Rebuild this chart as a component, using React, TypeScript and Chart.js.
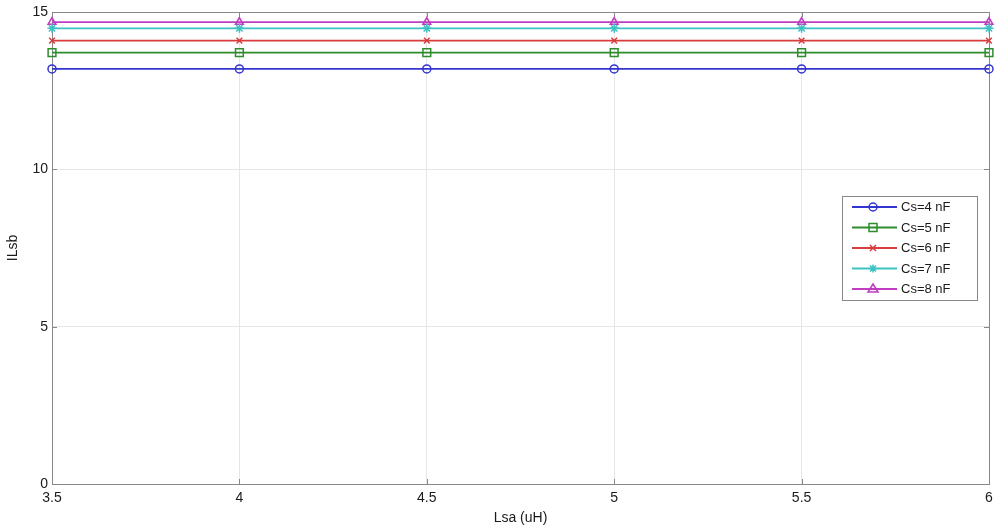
import React, { useEffect, useRef } from 'react';
import { Chart, registerables } from 'chart.js';

Chart.register(...registerables);

const lsa = [3.5, 4, 4.5, 5, 5.5, 6];
const cs4 = [13.19, 13.19, 13.19, 13.19, 13.19, 13.19];
const cs5 = [13.71, 13.71, 13.71, 13.71, 13.71, 13.71];
const cs6 = [14.09, 14.09, 14.09, 14.09, 14.09, 14.09];
const cs7 = [14.48, 14.48, 14.48, 14.48, 14.48, 14.48];
const cs8 = [14.68, 14.68, 14.68, 14.68, 14.68, 14.68];
const seriesLabels = ['Cs=4 nF', 'Cs=5 nF', 'Cs=6 nF', 'Cs=7 nF', 'Cs=8 nF'];
const seriesValues = [cs4, cs5, cs6, cs7, cs8];
const colors = ['#3434d0', '#2e8c2e', '#d83c3c', '#3cc2c2', '#c03cc0'];
const pointStyles = ['circle', 'rect', 'crossRot', 'star', 'triangle'];
const pointRadii = [4, 5.5, 4, 4.5, 4.5];
const xTicks = [3.5, 4, 4.5, 5, 5.5, 6];
const yTicks = [0, 5, 10, 15];
const xTitle = 'Lsa (uH)';
const yTitle = 'ILsb';

const FONT = '"Liberation Sans", Arial, Helvetica, sans-serif';
const AXIS_COLOR = '#888888';
const TEXT_COLOR = '#1a1a1a';

function drawMarker(ctx: CanvasRenderingContext2D, style: string, x: number, y: number) {
  ctx.beginPath();
  if (style === 'circle') {
    ctx.arc(x, y, 4, 0, Math.PI * 2);
  } else if (style === 'rect') {
    ctx.rect(x - 4, y - 4, 8, 8);
  } else if (style === 'crossRot') {
    ctx.moveTo(x - 3, y - 3); ctx.lineTo(x + 3, y + 3);
    ctx.moveTo(x + 3, y - 3); ctx.lineTo(x - 3, y + 3);
  } else if (style === 'star') {
    ctx.moveTo(x - 4, y); ctx.lineTo(x + 4, y);
    ctx.moveTo(x, y - 4); ctx.lineTo(x, y + 4);
    ctx.moveTo(x - 3, y - 3); ctx.lineTo(x + 3, y + 3);
    ctx.moveTo(x + 3, y - 3); ctx.lineTo(x - 3, y + 3);
  } else if (style === 'triangle') {
    ctx.moveTo(x, y - 5); ctx.lineTo(x + 5, y + 3); ctx.lineTo(x - 5, y + 3); ctx.closePath();
  }
  ctx.stroke();
}

const framePlugin = {
  id: 'frame',
  beforeDatasetsDraw(chart: any) {
    const { ctx, chartArea: a, scales } = chart;
    ctx.save();
    ctx.strokeStyle = AXIS_COLOR;
    ctx.lineWidth = 1;
    ctx.beginPath();
    xTicks.forEach((v) => {
      const px = Math.round(scales.x.getPixelForValue(v)) + 0.5;
      ctx.moveTo(px, a.bottom); ctx.lineTo(px, a.bottom - 5);
      ctx.moveTo(px, a.top); ctx.lineTo(px, a.top + 5);
    });
    yTicks.forEach((v) => {
      const py = Math.round(scales.y.getPixelForValue(v)) + 0.5;
      ctx.moveTo(a.left, py); ctx.lineTo(a.left + 5, py);
      ctx.moveTo(a.right, py); ctx.lineTo(a.right - 5, py);
    });
    ctx.stroke();
    ctx.strokeRect(Math.round(a.left) + 0.5, Math.round(a.top) + 0.5, Math.round(a.right - a.left), Math.round(a.bottom - a.top));
    ctx.restore();
  },
  afterDraw(chart: any) {
    const { ctx, chartArea: a } = chart;
    const bx = a.right - 147;
    const by = a.top + 184;
    const bw = 135;
    const bh = 104;
    ctx.save();
    ctx.fillStyle = '#ffffff';
    ctx.fillRect(bx, by, bw, bh);
    ctx.strokeStyle = AXIS_COLOR;
    ctx.lineWidth = 1;
    ctx.strokeRect(bx + 0.5, by + 0.5, bw, bh);
    ctx.font = '13px ' + FONT;
    ctx.textBaseline = 'middle';
    ctx.textAlign = 'left';
    seriesLabels.forEach((lab, i) => {
      const y = by + 11 + i * 20.5;
      ctx.strokeStyle = colors[i];
      ctx.lineWidth = 1.8;
      ctx.beginPath();
      ctx.moveTo(bx + 10, y); ctx.lineTo(bx + 55, y);
      ctx.stroke();
      ctx.lineWidth = 1.5;
      drawMarker(ctx, pointStyles[i], bx + 31, y);
      ctx.fillStyle = TEXT_COLOR;
      ctx.fillText(lab, bx + 59, y + 0.5);
    });
    ctx.restore();
  },
};

export default function App() {
  const ref = useRef<HTMLCanvasElement | null>(null);
  useEffect(() => {
    if (!ref.current) return;
    const chart = new Chart(ref.current, {
      type: 'line',
      data: {
        datasets: seriesValues.map((vals, i) => ({
          label: seriesLabels[i],
          data: lsa.map((x, j) => ({ x, y: vals[j] })),
          borderColor: colors[i],
          backgroundColor: 'rgba(0,0,0,0)',
          borderWidth: 1.8,
          pointStyle: pointStyles[i] as any,
          pointRadius: pointRadii[i],
          pointBorderWidth: 1.5,
          pointBorderColor: colors[i],
          pointBackgroundColor: 'rgba(0,0,0,0)',
          tension: 0,
          clip: false as any,
        })),
      },
      options: {
        animation: false,
        responsive: false,
        maintainAspectRatio: false,
        devicePixelRatio: 1,
        layout: { padding: { top: 12, right: 7, left: 0, bottom: 0 } },
        plugins: { legend: { display: false }, tooltip: { enabled: false } },
        scales: {
          x: {
            type: 'linear',
            min: 3.5,
            max: 6,
            afterBuildTicks: (s: any) => { s.ticks = xTicks.map((v) => ({ value: v })); },
            afterFit: (s: any) => { s.height = 46; s.paddingRight = 0; s.paddingLeft = 0; },
            ticks: {
              padding: 6,
              color: TEXT_COLOR,
              font: { size: 14, family: FONT },
              maxRotation: 0,
              autoSkip: false,
              callback: (v: any) => String(v),
            },
            grid: { color: '#e6e6e6', drawTicks: false },
            border: { color: AXIS_COLOR },
            title: { display: true, text: xTitle, color: TEXT_COLOR, font: { size: 14, family: FONT }, padding: { top: 0, bottom: 3 } },
          },
          y: {
            type: 'linear',
            min: 0,
            max: 15,
            afterBuildTicks: (s: any) => { s.ticks = yTicks.map((v) => ({ value: v })); },
            afterFit: (s: any) => { s.width = 52; s.paddingTop = 0; s.paddingBottom = 0; },
            ticks: {
              padding: 4,
              color: TEXT_COLOR,
              font: { size: 14, family: FONT },
              callback: (v: any) => String(v),
            },
            grid: { color: '#e6e6e6', drawTicks: false },
            border: { color: AXIS_COLOR },
            title: { display: true, text: yTitle, color: TEXT_COLOR, font: { size: 14, family: FONT }, padding: { top: 5, bottom: 0 } },
          },
        },
      },
      plugins: [framePlugin],
    });
    return () => chart.destroy();
  }, []);
  return (
    <div style={{ position: 'absolute', left: 0, top: 0, width: 996, height: 530, background: '#ffffff' }}>
      <canvas ref={ref} width={996} height={530} />
    </div>
  );
}
